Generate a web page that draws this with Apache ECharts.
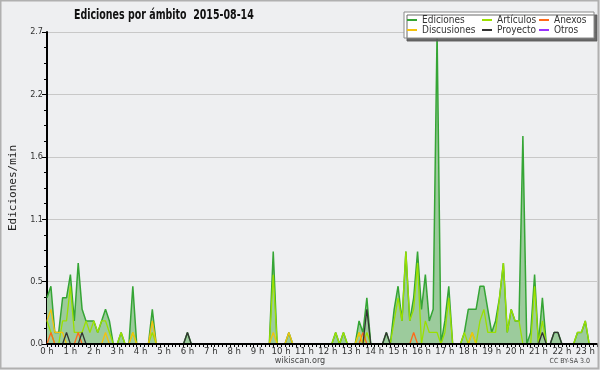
<!DOCTYPE html>
<html><head><meta charset="utf-8">
<script src="https://cdn.jsdelivr.net/npm/echarts@6/dist/echarts.min.js"></script>
<style>html,body{margin:0;padding:0;background:#eeeff1}#c{width:600px;height:370px}</style>
</head><body><div id="c"></div>
<script>
// hour tick labels
const hourLabels = ['0 h','1 h','2 h','3 h','4 h','5 h','6 h','7 h','8 h','9 h','10 h','11 h','12 h','13 h','14 h','15 h','16 h','17 h','18 h','19 h','20 h','21 h','22 h','23 h'];
// 10-minute bins from 00:00 to 23:30, values in edits/min (one row per hour)
const ediciones = [
 0.4,0.5,0.1,0.1,0.4,0.4,
 0.6,0.2,0.7,0.3,0.2,0.2,
 0.2,0.1,0.2,0.3,0.2,0,
 0,0.1,0,0,0.5,0,
 0,0,0,0.3,0,0,
 0,0,0,0,0,0,
 0.1,0,0,0,0,0,
 0,0,0,0,0,0,
 0,0,0,0,0,0,
 0,0,0,0,0.8,0,
 0,0,0.1,0,0,0,
 0,0,0,0,0,0,
 0,0,0.1,0,0.1,0,
 0,0,0.2,0.1,0.4,0,
 0,0,0,0.1,0,0.3,
 0.5,0.2,0.8,0.2,0.4,0.8,
 0.3,0.6,0.2,0.3,2.7,0,
 0.2,0.5,0,0,0,0.1,
 0.3,0.3,0.3,0.5,0.5,0.3,
 0.1,0.2,0.4,0.7,0.1,0.3,
 0.2,0.2,1.8,0,0.1,0.6,
 0,0.4,0,0,0.1,0.1,
 0,0,0,0,0.1,0.1,
 0.2,0,0,0
];
const articulos = [
 0.2,0.1,0,0,0.2,0.2,
 0.5,0.1,0.1,0.1,0.2,0.1,
 0.2,0.1,0.2,0.2,0.1,0,
 0,0.1,0,0,0.1,0,
 0,0,0,0.1,0,0,
 0,0,0,0,0,0,
 0,0,0,0,0,0,
 0,0,0,0,0,0,
 0,0,0,0,0,0,
 0,0,0,0,0.6,0,
 0,0,0,0,0,0,
 0,0,0,0,0,0,
 0,0,0.1,0,0.1,0,
 0,0,0.1,0,0.1,0,
 0,0,0,0,0,0.2,
 0.4,0.2,0.8,0.2,0.3,0.7,
 0,0.2,0.1,0.1,0.1,0,
 0.1,0.4,0,0,0,0.1,
 0,0.1,0,0.2,0.3,0.1,
 0.1,0.1,0.4,0.7,0.1,0.3,
 0.2,0.2,0,0,0,0.5,
 0,0.2,0,0,0,0,
 0,0,0,0,0.1,0.1,
 0.2,0,0,0
];
const anexos = [
 0,0.1,0,0,0,0,
 0,0,0.1,0,0,0,
 0,0,0,0,0,0,
 0,0,0,0,0,0,
 0,0,0,0,0,0,
 0,0,0,0,0,0,
 0,0,0,0,0,0,
 0,0,0,0,0,0,
 0,0,0,0,0,0,
 0,0,0,0,0,0,
 0,0,0,0,0,0,
 0,0,0,0,0,0,
 0,0,0,0,0,0,
 0,0,0,0.1,0,0,
 0,0,0,0,0,0,
 0,0,0,0,0.1,0,
 0,0,0,0,0,0,
 0,0,0,0,0,0,
 0,0,0,0,0,0,
 0,0,0,0,0,0,
 0,0,0,0,0,0,
 0,0,0,0,0,0,
 0,0,0,0,0,0,
 0,0,0,0
];
const discusiones = [
 0.2,0.3,0.1,0.1,0.1,0,
 0,0,0,0,0,0,
 0,0,0,0.1,0,0,
 0,0,0,0,0.1,0,
 0,0,0,0.2,0,0,
 0,0,0,0,0,0,
 0,0,0,0,0,0,
 0,0,0,0,0,0,
 0,0,0,0,0,0,
 0,0,0,0,0.1,0,
 0,0,0.1,0,0,0,
 0,0,0,0,0,0,
 0,0,0,0,0,0,
 0,0,0.1,0,0,0,
 0,0,0,0,0,0,
 0,0,0,0,0,0,
 0,0,0,0,0,0,
 0,0,0,0,0,0,
 0,0.1,0,0,0,0,
 0,0,0,0,0,0,
 0,0,0,0,0,0,
 0,0,0,0,0,0,
 0,0,0,0,0,0,
 0,0,0,0
];
const proyecto = [
 0,0,0,0,0,0.1,
 0,0,0,0.1,0,0,
 0,0,0,0,0,0,
 0,0,0,0,0,0,
 0,0,0,0,0,0,
 0,0,0,0,0,0,
 0.1,0,0,0,0,0,
 0,0,0,0,0,0,
 0,0,0,0,0,0,
 0,0,0,0,0,0,
 0,0,0,0,0,0,
 0,0,0,0,0,0,
 0,0,0,0,0,0,
 0,0,0,0,0.3,0,
 0,0,0,0.1,0,0,
 0,0,0,0,0,0,
 0,0,0,0,0,0,
 0,0,0,0,0,0,
 0,0,0,0,0,0,
 0,0,0,0,0,0,
 0,0,0,0,0,0,
 0,0.1,0,0,0.1,0.1,
 0,0,0,0,0,0,
 0,0,0,0
];
const otros = new Array(ediciones.length).fill(0);

const cats = [];
for (let i = 0; i < ediciones.length; i++) cats.push(String(Math.floor(i/6)).padStart(2,'0') + ':' + (i%6) + '0');

const chart = echarts.init(document.getElementById('c'), null, {renderer:'canvas'});
const lineSeries = (name, data, color, width, z) => ({
  name, type:'line', data, symbol:'none', smooth:false, z,
  lineStyle:{color, width}, itemStyle:{color}
});
const colKey = {'Ediciones':'a','Discusiones':'a','Artículos':'b','Proyecto':'b','Anexos':'c','Otros':'c'};
const cf = 'DejaVu Sans Condensed';
const rs = (w) => ({width:w, fontFamily:cf, fontSize:10, lineHeight:10.5, color:'#333'});
chart.setOption({
  animation:false,
  backgroundColor:'#eeeff1',
  legend:{left:404, top:12, width:200, itemGap:0, itemWidth:10, itemHeight:2, icon:'rect',
    padding:[3,3,3,3], backgroundColor:'#ffffff', borderColor:'#8a8a8a', borderWidth:1,
    shadowColor:'rgba(90,90,90,0.9)', shadowOffsetX:3, shadowOffsetY:3, shadowBlur:0,
    formatter:(n)=>'{'+colKey[n]+'|'+n+'}',
    textStyle:{fontFamily:cf, fontSize:10, color:'#333', rich:{a:rs(60), b:rs(42), c:rs(37)}},
    data:['Ediciones','Artículos','Anexos','Discusiones','Proyecto','Otros']},
  grid:{left:46, top:32, width:551, height:312},
  xAxis:{type:'category', data:cats, boundaryGap:false, z:10,
    axisLine:{lineStyle:{color:'#000', width:2}},
    axisTick:{interval:0, length:3, lineStyle:{color:'#000'}},
    axisLabel:{interval:(i)=>i%6===0, formatter:(v,i)=>hourLabels[Math.floor(i/6)],
      fontFamily:cf, fontSize:9.5, color:'#333', margin:3},
    splitLine:{show:false}},
  yAxis:{type:'value', min:0, max:2.7, interval:0.54,
    name:'Ediciones/min', nameLocation:'middle', nameGap:28, nameRotate:90,
    nameTextStyle:{fontFamily:'DejaVu Sans Mono', fontSize:11, color:'#222'},
    axisLine:{show:true, lineStyle:{color:'#000', width:2}},
    axisTick:{show:true, length:5, lineStyle:{color:'#000'}},
    minorTick:{show:true, splitNumber:4, length:3, lineStyle:{color:'#000'}},
    axisLabel:{formatter:(v)=>v.toFixed(1), fontFamily:cf, fontSize:9, color:'#333', margin:4},
    splitLine:{lineStyle:{color:'#c8c8c8', width:1}}},
  series:[
    Object.assign(lineSeries('Ediciones', ediciones, '#35a535', 1.5, 2), {areaStyle:{color:'#9ccb9c', opacity:1}}),
    lineSeries('Artículos', articulos, '#9be000', 1.3, 3),
    lineSeries('Anexos', anexos, '#ff6a1a', 1.3, 4),
    lineSeries('Discusiones', discusiones, '#f4c20d', 1.3, 4),
    lineSeries('Proyecto', proyecto, '#333333', 1.3, 5),
    lineSeries('Otros', otros, '#9933ff', 1.3, 1)
  ],
  graphic:[
    {type:'text', x:74, y:8, scaleX:0.78, scaleY:1, style:{text:'Ediciones por ámbito  2015-08-14', font:'bold 13.5px "DejaVu Sans Condensed"', fill:'#111'}},
    {type:'text', left:'center', top:356, style:{text:'wikiscan.org', font:'9px "DejaVu Sans Condensed"', fill:'#444'}},
    {type:'text', right:10, top:358, style:{text:'CC BY-SA 3.0', font:'7px "DejaVu Sans Condensed"', fill:'#444'}},
    {type:'rect', shape:{x:0.5, y:0.5, width:598, height:368}, style:{fill:'none', stroke:'#b0b0b0', lineWidth:2}, z:100, silent:true}
  ]
});
</script></body></html>
